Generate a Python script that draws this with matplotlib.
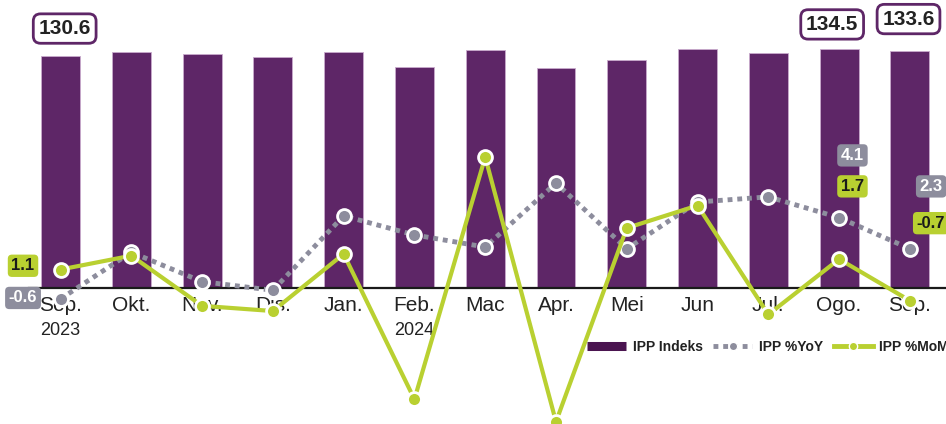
import matplotlib
matplotlib.use('Agg')
import matplotlib.pyplot as plt
from matplotlib.lines import Line2D
import numpy as np

plt.rcParams['font.family'] = ['Liberation Sans', 'DejaVu Sans']

# ----------------------
# data
# ----------------------
months = ['Sep.', 'Okt.', 'Nov.', 'Dis.', 'Jan.', 'Feb.', 'Mac', 'Apr.',
          'Mei', 'Jun', 'Jul.', 'Ogo.', 'Sep.']
years = {0: '2023', 5: '2024'}
ipp_indeks = [130.6, 133.2, 132.1, 130.2, 133.0, 124.8, 133.9, 123.8,
              128.3, 134.5, 132.4, 134.5, 133.6]
ipp_yoy = [-0.6, 2.1, 0.4, -0.1, 4.2, 3.1, 2.4, 6.1, 2.3, 5.0, 5.3, 4.1, 2.3]
ipp_mom = [1.1, 1.9, -1.0, -1.3, 2.0, -6.4, 7.6, -7.7, 3.5, 4.8, -1.5, 1.7, -0.7]

# colours
BAR = '#5e2667'
BAR_LEG = '#4a1450'
GREEN = '#b9d031'
GREY = '#8d8d9d'

x = np.arange(len(months))

fig = plt.figure(figsize=(9.46, 4.24), dpi=100)
ax = fig.add_axes([0, 0, 1, 1])
ax2 = ax.twinx()

ax.set_xlim(-0.855, 12.51)
ax.set_ylim(-76.25, 162.3)
ax2.set_ylim(-7.83, 16.68)
for a in (ax, ax2):
    a.axis('off')

# bars
ax.bar(x, ipp_indeks, width=0.55, color=BAR, edgecolor='#c9aacd',
       linewidth=0.6, zorder=2)
ax.plot([-0.45, 12.51], [0, 0], color='#1a1a1a', lw=1.6, zorder=3)

# month / year labels (under the lines)
for i, m in enumerate(months):
    ax.text(i, -9.3, m, ha='center', va='center', fontsize=15,
            color='#222222', zorder=4)
for i, y in years.items():
    ax.text(i, -23.4, y, ha='center', va='center', fontsize=13,
            color='#222222', zorder=4)

# value boxes on bars
bar_lbl = {0: (3, 20), 11: (-5, 18), 12: (-1, 23)}
for i, (dx, dy) in bar_lbl.items():
    ax.annotate(f'{ipp_indeks[i]:.1f}', (i, ipp_indeks[i]), xytext=(dx, dy),
                textcoords='offset points', ha='center', va='center',
                fontsize=15, fontweight='bold', color='#222222',
                bbox=dict(boxstyle='round,pad=0.25,rounding_size=0.35',
                          fc='white', ec=BAR, lw=2), zorder=5)

# lines
ax2.plot(x, ipp_yoy, color=GREY, lw=3.5, ls=(0, (1, 1)), marker='o',
         ms=10, mfc=GREY, mec='white', mew=2, zorder=3)
ax2.plot(x, ipp_mom, color=GREEN, lw=3, marker='o', ms=10, mfc=GREEN,
         mec='white', mew=2, zorder=4)

# line value boxes
def tag(i, vals, off, fc, tc):
    ax2.annotate(f'{vals[i]:.1f}', (i, vals[i]), xytext=off,
                 textcoords='offset points', ha='center', va='center',
                 fontsize=12, fontweight='bold', color=tc,
                 bbox=dict(boxstyle='round,pad=0.22,rounding_size=0.25',
                           fc=fc, ec='none'), zorder=6)

tag(0, ipp_mom, (-27, 2.7), GREEN, '#1a1a1a')
tag(0, ipp_yoy, (-27, 0.7), GREY, 'white')
tag(11, ipp_yoy, (9.6, 44.8), GREY, 'white')
tag(11, ipp_mom, (9.6, 52.4), GREEN, '#1a1a1a')
tag(12, ipp_yoy, (15.3, 44.9), GREY, 'white')
tag(12, ipp_mom, (15.1, 55.8), GREEN, '#1a1a1a')

# legend
handles = [
    Line2D([], [], color=BAR_LEG, lw=6.5, solid_capstyle='butt'),
    Line2D([], [], color=GREY, lw=3.5, ls=(0, (1, 1)), marker='o', ms=6,
           mfc=GREY, mec='white', mew=1),
    Line2D([], [], color=GREEN, lw=3.5, marker='o', ms=6, mfc=GREEN,
           mec='white', mew=1),
]
leg = ax2.legend(handles, ['IPP Indeks', 'IPP %YoY', 'IPP %MoM'],
                 loc='center left', bbox_to_anchor=(587 / 946, 1 - 347 / 424),
                 ncol=3, frameon=False, handlelength=2.8, handletextpad=0.5,
                 columnspacing=0.75, borderpad=0, borderaxespad=0,
                 prop={'size': 10, 'weight': 'bold'})
for t in leg.get_texts():
    t.set_color('#222222')

fig.savefig('out.png', dpi=100)
